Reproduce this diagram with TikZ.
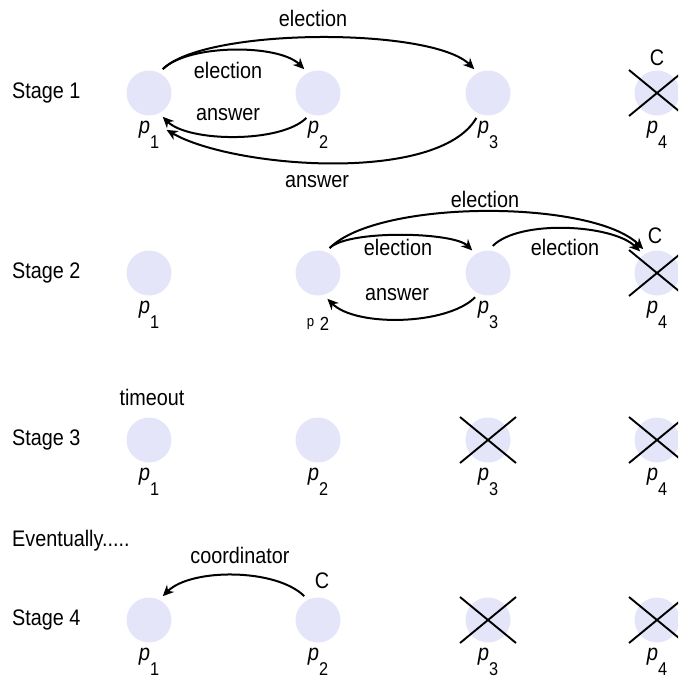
\documentclass[tikz,border=0pt]{standalone}
\usepackage{fontspec}
\setmainfont{Liberation Sans}[FakeStretch=0.88]
\usetikzlibrary{arrows.meta,positioning}
\definecolor{procfill}{RGB}{229,229,250}
\tikzset{
  proc/.style={
    circle,
    fill=procfill,
    minimum size=45pt,
    inner sep=0pt,
    outer sep=5pt
  },
  pname/.style={inner sep=0pt, below=0pt},
  txt/.style={inner sep=0pt, anchor=base},
  stagetxt/.style={inner sep=0pt, anchor=base west},
  msg/.style={-{Stealth[length=11pt,width=10pt,inset=3.5pt]}, line width=2pt},
  dead/.style={line width=1.9pt}
}
\newcommand{\pn}[1]{{\fontsize{23}{23}\selectfont\itshape p}\raisebox{-0.7em}{\fontsize{18.5}{18}\selectfont #1}}
\newcommand{\crossout}[1]{\draw[dead] (#1.center) ++(-28,23) -- ++(56,-46) (#1.center) ++(-28,-23) -- ++(56,46);}

\begin{document}
\begin{tikzpicture}[x=1pt,y=1pt,font=\fontsize{22.5}{26}\selectfont]
    \clip (0,0) rectangle (678,-680);

    % stage 1
    \node[stagetxt] (st1) at (12,-98) {Stage 1};
    \node[proc] (s1p1) at (149,-93) {};
    \node[proc] (s1p2) at (318,-93) {};
    \node[proc] (s1p3) at (488,-93) {};
    \node[proc] (s1p4) at (657,-93) {};
    \node[pname] (s1n1) at (s1p1.south) {\pn{1}};
    \node[pname] (s1n2) at (s1p2.south) {\pn{2}};
    \node[pname] (s1n3) at (s1p3.south) {\pn{3}};
    \node[pname] (s1n4) at (s1p4.south) {\pn{4}};
    \crossout{s1p4}
    \node[txt] (s1c) at (657,-65) {C};

    \draw[msg] (s1p1.60) to[out=45,in=135,looseness=0.49] (s1p3.120);
    \draw[msg] (s1p1.60) to[out=45,in=135,looseness=0.65] (s1p2.120);
    \draw[msg] (s1p2.-115) to[out=-135,in=-45,looseness=0.64] (s1p1.-60);
    \draw[msg] (s1p3.-115) to[out=-120,in=-30,looseness=0.63] ([shift={(6pt,-12pt)}]s1p1.-65);
    \node[txt] (s1e1) at (313,-27) {election};
    \node[txt] (s1e2) at (228,-78) {election};
    \node[txt] (s1a1) at (228,-120) {answer};
    \node[txt] (s1a2) at (317,-187) {answer};

    % stage 2
    \node[stagetxt] (st2) at (12,-278) {Stage 2};
    \node[proc] (s2p1) at (149,-273) {};
    \node[proc] (s2p2) at (318,-273) {};
    \node[proc] (s2p3) at (488,-273) {};
    \node[proc] (s2p4) at (657,-273) {};
    \node[pname] (s2n1) at (s2p1.south) {\pn{1}};
    \node[txt] (s2n2) at (318,-326) {{\fontsize{15}{15}\selectfont p}\ \raisebox{-0.2em}{\fontsize{19}{18}\selectfont 2}};
    \node[pname] (s2n3) at (s2p3.south) {\pn{3}};
    \node[pname] (s2n4) at (s2p4.south) {\pn{4}};
    \crossout{s2p4}
    \node[txt] (s2c) at (655,-243) {C};

    \draw[msg] (s2p2.65) to[out=45,in=135,looseness=0.47] (s2p3.125);
    \draw[msg] (s2p2.65) to[out=45,in=135,looseness=0.57] (s2p4.120);
    \draw[msg] (s2p3.80) to[out=45,in=135,looseness=0.66] (s2p4.128);
    \draw[msg] (s2p3.-118) to[out=-135,in=-45,looseness=0.69] (s2p2.-70);
    \node[txt] (s2e1) at (485,-207) {election};
    \node[txt] (s2e2) at (398,-255) {election};
    \node[txt] (s2e3) at (565,-255) {election};
    \node[txt] (s2a1) at (397,-300) {answer};

    % stage 3
    \node[stagetxt] (st3) at (12,-445) {Stage 3};
    \node[proc] (s3p1) at (149,-440) {};
    \node[proc] (s3p2) at (318,-440) {};
    \node[proc] (s3p3) at (488,-440) {};
    \node[proc] (s3p4) at (657,-440) {};
    \node[pname] (s3n1) at (s3p1.south) {\pn{1}};
    \node[pname] (s3n2) at (s3p2.south) {\pn{2}};
    \node[pname] (s3n3) at (s3p3.south) {\pn{3}};
    \node[pname] (s3n4) at (s3p4.south) {\pn{4}};
    \crossout{s3p3}
    \crossout{s3p4}
    \node[txt] (s3t) at (152,-405) {timeout};

    % stage 4
    \node[stagetxt] (ev) at (12,-546) {Eventually.....};
    \node[stagetxt] (st4) at (12,-625) {Stage 4};
    \node[proc] (s4p1) at (149,-620) {};
    \node[proc] (s4p2) at (318,-620) {};
    \node[proc] (s4p3) at (488,-620) {};
    \node[proc] (s4p4) at (657,-620) {};
    \node[pname] (s4n1) at (s4p1.south) {\pn{1}};
    \node[pname] (s4n2) at (s4p2.south) {\pn{2}};
    \node[pname] (s4n3) at (s4p3.south) {\pn{3}};
    \node[pname] (s4n4) at (s4p4.south) {\pn{4}};
    \crossout{s4p3}
    \crossout{s4p4}
    \node[txt] (s4c) at (322,-588) {C};

    \draw[msg] (s4p2.120) to[out=135,in=45,looseness=0.72] (s4p1.60);
    \node[txt] (s4k) at (240,-563) {coordinator};
\end{tikzpicture}
\end{document}
